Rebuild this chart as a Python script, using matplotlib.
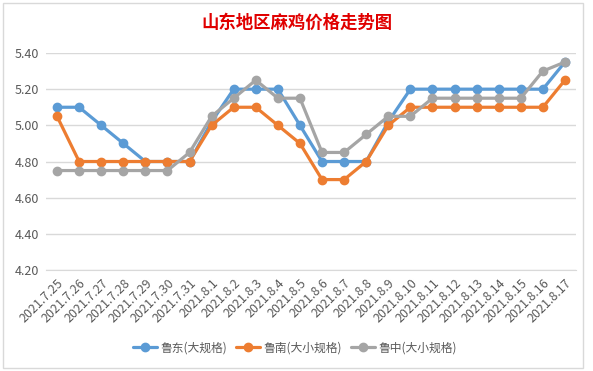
#!/usr/bin/env python3
"""Line chart of hemp-chicken prices in Shandong, Excel style."""

import matplotlib.pyplot as plt
from matplotlib.patches import Rectangle

plt.rcParams["font.family"] = ["Noto Sans CJK SC", "DejaVu Sans"]

DATES = [
    "2021.7.25", "2021.7.26", "2021.7.27", "2021.7.28", "2021.7.29", "2021.7.30",
    "2021.7.31", "2021.8.1", "2021.8.2", "2021.8.3", "2021.8.4", "2021.8.5",
    "2021.8.6", "2021.8.7", "2021.8.8", "2021.8.9", "2021.8.10", "2021.8.11",
    "2021.8.12", "2021.8.13", "2021.8.14", "2021.8.15", "2021.8.16", "2021.8.17",
]
LUDONG = [5.10, 5.10, 5.00, 4.90, 4.80, 4.80, 4.80, 5.02, 5.20, 5.20, 5.20, 5.00,
          4.80, 4.80, 4.80, 5.02, 5.20, 5.20, 5.20, 5.20, 5.20, 5.20, 5.20, 5.35]
LUNAN = [5.05, 4.80, 4.80, 4.80, 4.80, 4.80, 4.80, 5.00, 5.10, 5.10, 5.00, 4.90,
         4.70, 4.70, 4.80, 5.00, 5.10, 5.10, 5.10, 5.10, 5.10, 5.10, 5.10, 5.25]
LUZHONG = [4.75, 4.75, 4.75, 4.75, 4.75, 4.75, 4.85, 5.05, 5.15, 5.25, 5.15, 5.15,
           4.85, 4.85, 4.95, 5.05, 5.05, 5.15, 5.15, 5.15, 5.15, 5.15, 5.30, 5.35]
SERIES = [
    ("鲁东(大规格)", LUDONG, "#5B9BD5"),
    ("鲁南(大小规格)", LUNAN, "#ED7D31"),
    ("鲁中(大小规格)", LUZHONG, "#A5A5A5"),
]
Y_TICKS = [4.20, 4.40, 4.60, 4.80, 5.00, 5.20, 5.40]

W, H = 593, 371


def main() -> None:
    fig = plt.figure(figsize=(W / 100, H / 100), dpi=100)
    fig.patches.append(Rectangle((3 / W, 3 / H), 580 / W, 365 / H, transform=fig.transFigure,
                                 fill=False, edgecolor="#D9D9D9", lw=1))
    ax = fig.add_axes([46 / W, 1 - 270 / H, 530 / W, 217 / H])
    x = list(range(len(DATES)))
    for name, vals, color in SERIES:
        ax.plot(x, vals, color=color, lw=2.3, marker="o", markersize=6, label=name,
                solid_capstyle="round")

    ax.set_xlim(-0.5, len(DATES) - 0.5)
    ax.set_ylim(4.20, 5.40)
    ax.set_yticks(Y_TICKS)
    ax.set_yticklabels([f"{v:.2f}" for v in Y_TICKS])
    ax.set_xticks(x)
    ax.set_xticklabels(DATES, rotation=45, ha="right", rotation_mode="anchor")
    ax.tick_params(axis="both", length=0, labelsize=9, colors="#595959")
    ax.tick_params(axis="y", pad=5)
    ax.tick_params(axis="x", pad=5)
    ax.grid(axis="y", color="#D9D9D9", lw=1)
    ax.set_axisbelow(True)
    for side in ("top", "right", "left"):
        ax.spines[side].set_visible(False)
    ax.spines["bottom"].set_color("#D9D9D9")

    fig.text(0.5, 1 - 23 / H, "山东地区麻鸡价格走势图", ha="center", va="center",
             color="#E00000", fontsize=12.5, fontweight="bold")
    ax.legend(loc="center", bbox_to_anchor=(295 / W, 1 - 348 / H), bbox_transform=fig.transFigure,
              ncol=3, frameon=False, fontsize=8.5, labelcolor="#595959", handlelength=2.0,
              handletextpad=0.3, columnspacing=0.8)
    fig.savefig("out.png", dpi=100)
    plt.close(fig)


if __name__ == "__main__":
    main()
